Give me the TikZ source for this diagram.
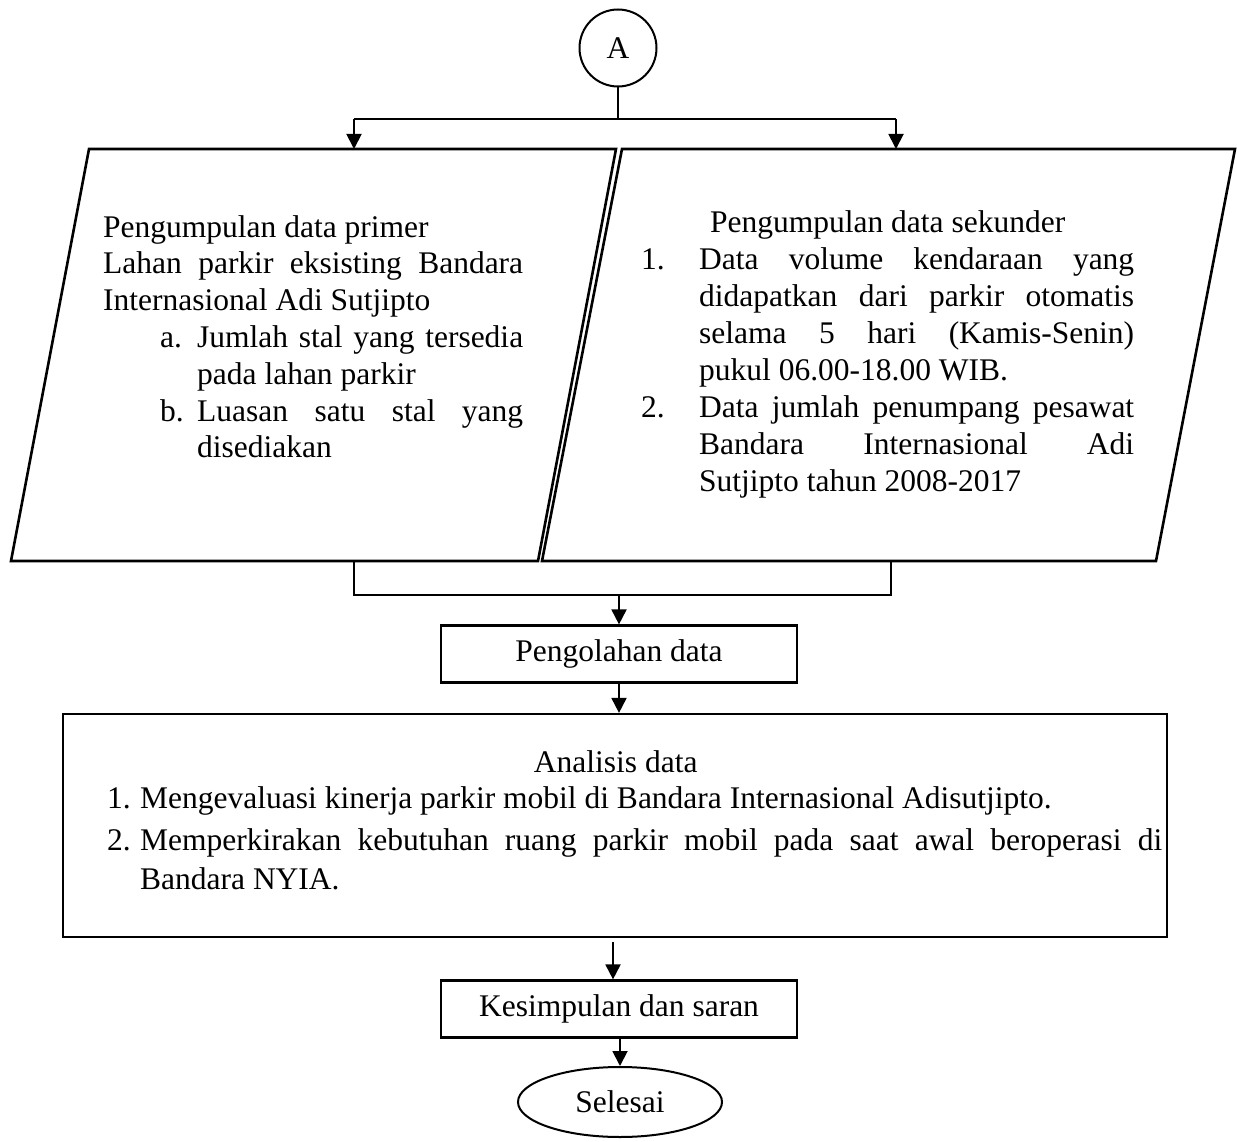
\documentclass[tikz,border=0pt]{standalone}
\usepackage{fontspec}
\setmainfont{Liberation Serif}
\usetikzlibrary{arrows.meta,shapes.geometric}
\begin{document}
\begin{tikzpicture}[x=1pt,y=-1pt,
  txt/.style={font=\fontsize{31.5}{36.8}\selectfont,inner sep=0pt},
  box/.style={draw,line width=2.2pt,minimum width=356pt,minimum height=57pt,inner sep=0pt},
  para/.style={draw,line width=2.6pt,line join=miter},
  conn/.style={line width=1.6pt},
  thinconn/.style={line width=1.4pt},
  arr/.style={line width=1.9pt,-{Triangle[width=15pt,length=15pt]}},
]
\useasboundingbox (0,0) rectangle (1237,1142);

% start connector
\node[draw,circle,line width=2pt,minimum size=77pt,txt] (A) at (618,48) {A};

% parallelograms
\draw[para] (89,149) -- (616,149) -- (538,561) -- (11,561) -- cycle;
\draw[para] (622,149) -- (1235,149) -- (1156,561) -- (542,561) -- cycle;
\coordinate (p1t) at (354,149);
\coordinate (p2t) at (896,149);
\coordinate (p1b) at (354,561);
\coordinate (p2b) at (891,561);
\coordinate (split) at (618,119);
\coordinate (join) at (619,595);

\node[txt,anchor=base west,text width=420pt,align=justify] (ptxt) at (103,237) {%
\hyphenpenalty=10000 \tolerance=10000 \hbadness=10000
Pengumpulan data primer\par
Lahan parkir eksisting Bandara\linebreak Internasional Adi Sutjipto\par
\leftskip=94pt
\leavevmode\llap{\makebox[37pt][l]{a.}}Jumlah stal yang tersedia\linebreak pada lahan parkir\par
\leavevmode\llap{\makebox[37pt][l]{b.}}Luasan satu stal yang\linebreak disediakan\par};

\node[txt,anchor=base west,text width=493pt,align=justify,font=\fontsize{31.5}{37}\selectfont] (stxt) at (641,233) {%
\hyphenpenalty=10000 \tolerance=10000 \hbadness=10000
{\centering Pengumpulan data sekunder\par}
\leftskip=58pt
\leavevmode\llap{\makebox[58pt][l]{1.}}Data volume kendaraan yang\linebreak didapatkan dari parkir otomatis\linebreak selama 5 hari (Kamis-Senin)\linebreak pukul 06.00-18.00 WIB.\par
\leavevmode\llap{\makebox[58pt][l]{2.}}Data jumlah penumpang pesawat\linebreak Bandara Internasional Adi\linebreak Sutjipto tahun 2008-2017\par};

% process boxes
\node[box,txt] (olah) at (619,654) {Pengolahan data};
\node[draw,line width=2.2pt,minimum width=1104pt,minimum height=223pt,inner sep=0pt] (anal) at (615,825.5) {};
\node[txt,anchor=base west,text width=1055pt,align=justify,font=\fontsize{31.5}{39}\selectfont] (atxt) at (107,772) {%
\hyphenpenalty=10000 \tolerance=10000 \hbadness=10000
{\centering\hspace*{-38pt}Analisis data\par}
\vspace{-3pt}
\leftskip=33pt
\leavevmode\llap{\makebox[33pt][l]{1.}}Mengevaluasi kinerja parkir mobil di Bandara Internasional Adisutjipto.\par
\vspace{3pt}
\leavevmode\llap{\makebox[33pt][l]{2.}}Memperkirakan kebutuhan ruang parkir mobil pada saat awal beroperasi di\linebreak Bandara NYIA.\par};
\node[box,txt] (kes) at (619,1009) {Kesimpulan dan saran};
\node[draw,ellipse,line width=2pt,minimum width=204pt,minimum height=70pt,txt] (end) at (620,1102) {Selesai};

% connectors
\draw[conn] (A.south) -- (split);
\draw[thinconn] (p1t |- split) -- (p2t |- split);
\draw[arr] (p1t |- split) -- (p1t);
\draw[arr] (p2t |- split) -- (p2t);
\draw[thinconn] (p1b) -- (p1b |- join) -- (p2b |- join) -- (p2b);
\draw[arr] (join) -- (olah.north);
\draw[arr] (olah.south) -- (olah.south |- anal.north);
\draw[arr] ([xshift=-6pt,yshift=-4pt]kes.north |- anal.south) -- ([xshift=-6pt]kes.north);
\draw[arr] ([xshift=1pt]kes.south) -- ([xshift=1pt]kes.south |- end.north);
\end{tikzpicture}
\end{document}
